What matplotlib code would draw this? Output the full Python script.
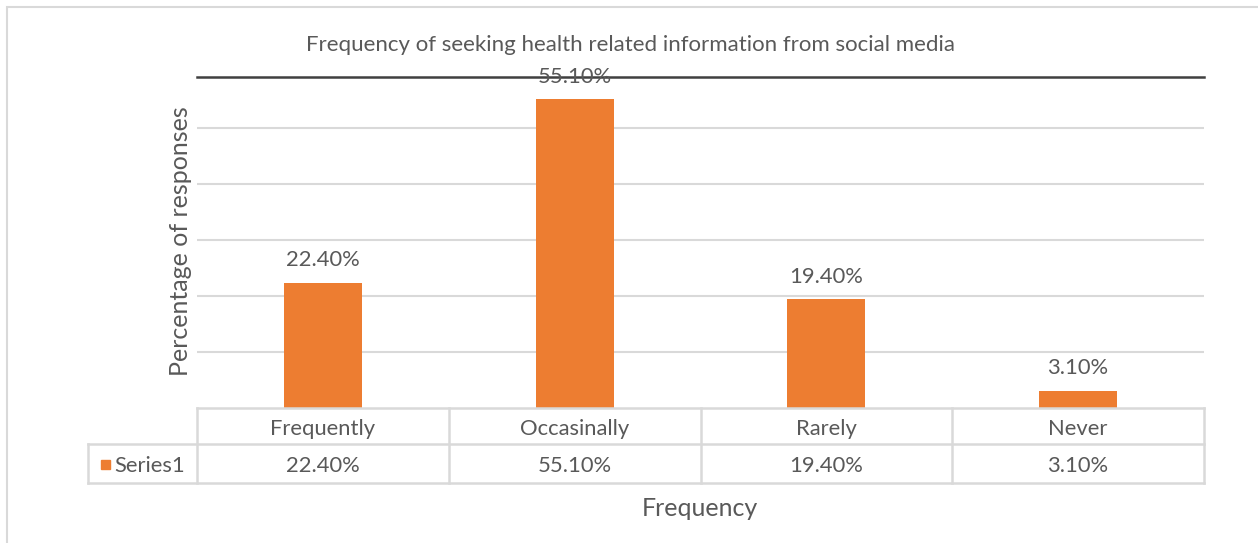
import matplotlib
matplotlib.use("Agg")
import matplotlib.pyplot as plt
from matplotlib.lines import Line2D
from matplotlib.patches import Rectangle

categories = ["Frequently", "Occasinally", "Rarely", "Never"]
values = [22.4, 55.1, 19.4, 3.1]
series_name = "Series1"
title = "Frequency of seeking health related information from social media"

W, H = 1258, 543
bar_color = "#ED7D31"
grid_color = "#d9d9d9"
text_color = "#595959"
label_size = 15.8
plt.rcParams["font.family"] = ["Lato", "DejaVu Sans"]

fig = plt.figure(figsize=(W / 100, H / 100), dpi=100)


def fx(x):
    return x / W


def fy(y):
    return 1 - y / H


# plot area in pixel terms
left, right, top, bottom = 197, 1204, 77, 408
ax = fig.add_axes([fx(left), fy(bottom), fx(right - left), fy(top) - fy(bottom)])
ax.set_xlim(-0.5, len(categories) - 0.5)
ax.set_ylim(0, (bottom - top) / 5.6)
ax.set_yticks(range(10, 60, 10))
ax.yaxis.grid(True, color=grid_color, lw=1.5)
ax.set_axisbelow(True)
ax.tick_params(left=False, bottom=False, labelleft=False, labelbottom=False)
for s in ["left", "right", "bottom"]:
    ax.spines[s].set_visible(False)
ax.spines["top"].set_color("#404040")
ax.spines["top"].set_linewidth(1.8)

xs = range(len(categories))
ax.bar(xs, values, width=0.31, color=bar_color, zorder=2)
for x, v in zip(xs, values):
    ax.annotate(f"{v:.2f}%", (x, v), xytext=(0, 9), textcoords="offset points",
                ha="center", va="bottom", fontsize=label_size, color=text_color,
                annotation_clip=False)

# outer chart border
fig.add_artist(Rectangle((fx(7), fy(H + 5)), fx(W), fy(7) - fy(H + 5),
                         transform=fig.transFigure, fill=False,
                         ec="#d9d9d9", lw=1.5))

fig.text(fx(631), fy(45), title, ha="center", va="center",
         fontsize=16, color=text_color)

# data table under the axis
row1, row2, row3 = 408, 444, 483
col_edges = [left + i * (right - left) / len(categories) for i in range(len(categories) + 1)]
key_left = 88


def hline(y, x0, x1):
    fig.add_artist(Line2D([fx(x0), fx(x1)], [fy(y), fy(y)], color=grid_color,
                          lw=1.8, transform=fig.transFigure))


def vline(x, y0, y1):
    fig.add_artist(Line2D([fx(x), fx(x)], [fy(y0), fy(y1)], color=grid_color,
                          lw=1.8, transform=fig.transFigure))


hline(row1, left, right)
hline(row2, key_left, right)
hline(row3, key_left, right)
vline(key_left, row2, row3)
for cx in col_edges:
    vline(cx, row1, row3)

for i, (c, v) in enumerate(zip(categories, values)):
    cx = (col_edges[i] + col_edges[i + 1]) / 2
    fig.text(fx(cx), fy((row1 + row2) / 2 + 3), c, ha="center", va="center",
             fontsize=label_size, color=text_color)
    fig.text(fx(cx), fy((row2 + row3) / 2 + 3), f"{v:.2f}%", ha="center", va="center",
             fontsize=label_size, color=text_color)

fig.add_artist(Rectangle((fx(101), fy(469)), fx(9), fy(460) - fy(469),
                         transform=fig.transFigure, color=bar_color))
fig.text(fx(114), fy((row2 + row3) / 2 + 3), series_name, ha="left", va="center",
         fontsize=label_size, color=text_color)

fig.text(fx(700), fy(508), "Frequency", ha="center", va="center",
         fontsize=18, color=text_color)
fig.text(fx(180), fy(241), "Percentage of responses", ha="center", va="center",
         rotation=90, fontsize=18, color=text_color)

fig.savefig("out.png", dpi=100)
